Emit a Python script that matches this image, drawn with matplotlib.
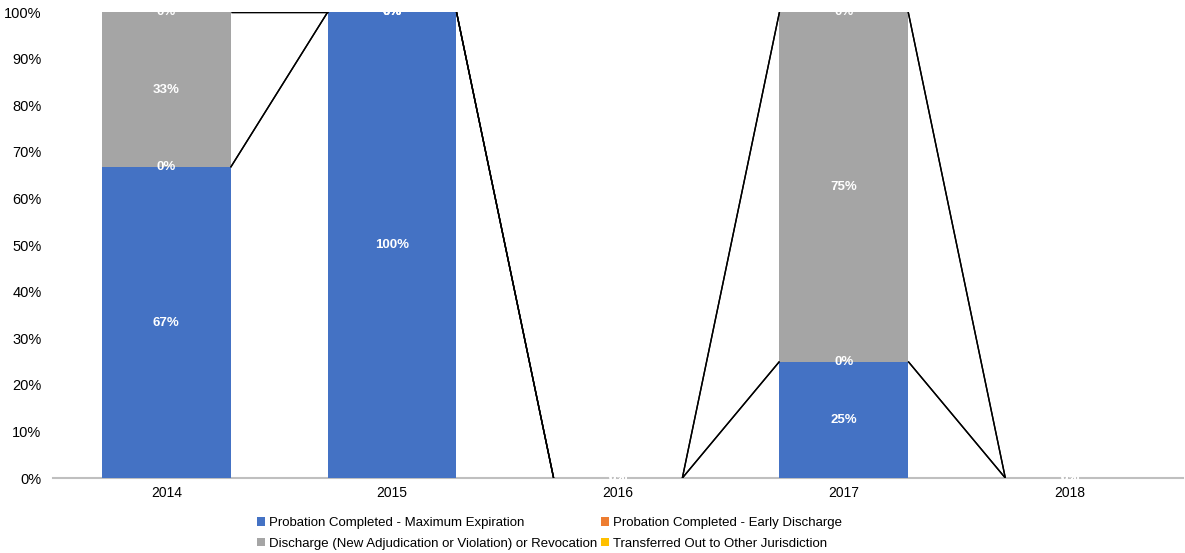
import numpy as np
import matplotlib.pyplot as plt

plt.rcParams['font.family'] = ['Liberation Sans', 'DejaVu Sans']

years = ['2014', '2015', '2016', '2017', '2018']
series_names = ['Probation Completed - Maximum Expiration',
                'Probation Completed - Early Discharge',
                'Discharge (New Adjudication or Violation) or Revocation',
                'Transferred Out to Other Jurisdiction']
max_expiration = [2/3, 1.0, 0.0, 0.25, 0.0]
early_discharge = [0.0, 0.0, 0.0, 0.0, 0.0]
revocation = [1/3, 0.0, 0.0, 0.75, 0.0]
transferred = [0.0, 0.0, 0.0, 0.0, 0.0]
colors = ['#4472C4', '#ED7D31', '#A5A5A5', '#FFC000']

data = np.array([max_expiration, early_discharge, revocation, transferred])

fig = plt.figure(figsize=(11.85, 5.53), dpi=100)
ax = fig.add_axes([0.045, 0.1356, 0.953, 0.8427])

x = np.arange(len(years))
w = 0.57
bottom = np.zeros(len(years))
handles = []
for vals, name, c in zip(data, series_names, colors):
    h = ax.bar(x, vals, w, bottom=bottom, color=c, label=name, zorder=2)
    handles.append(h)
    for xi, v, b in zip(x, vals, bottom):
        ax.text(xi, b + v / 2, '{:.0f}%'.format(v * 100), ha='center', va='center',
                color='white', fontsize=9.5, fontweight='bold', zorder=4)
    top = bottom + vals
    # series lines between stacks
    for i in range(len(years) - 1):
        ax.plot([x[i] + w / 2, x[i + 1] - w / 2], [top[i], top[i + 1]],
                color='black', lw=1, zorder=3, solid_capstyle='butt')
    bottom = top

ax.set_xlim(-0.5, len(years) - 0.5)
ax.set_ylim(0, 1)
ax.set_xticks(x)
ax.set_xticklabels(years, fontsize=10)
ax.set_yticks(np.arange(0, 1.01, 0.1))
ax.set_yticklabels(['{:.0f}%'.format(t * 100) for t in np.arange(0, 1.01, 0.1)], fontsize=10.5)
ax.tick_params(length=0, pad=6)
ax.tick_params(axis='y', pad=8.5)
for s in ['top', 'right', 'left']:
    ax.spines[s].set_visible(False)
ax.spines['bottom'].set_color('#BFBFBF')
ax.spines['bottom'].set_linewidth(1.5)
ax.spines['bottom'].set_zorder(1)

# row-major order like the original legend
order = [0, 2, 1, 3]
fig.legend([handles[i] for i in order], [series_names[i] for i in order],
           loc='upper center', bbox_to_anchor=(0.464, 1 - 517 / 553), ncol=2, frameon=False,
           fontsize=9.5, handlelength=0.6, handleheight=0.6, handletextpad=0.3,
           columnspacing=0.3, labelspacing=0.67, borderaxespad=0, borderpad=0)

fig.savefig('out.png', dpi=100)
